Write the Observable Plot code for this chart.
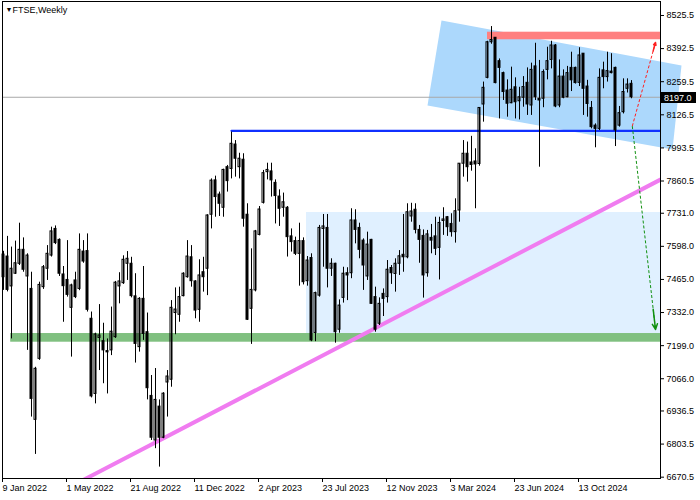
<!DOCTYPE html>
<html><head><meta charset="utf-8">
<script src="https://cdn.jsdelivr.net/npm/d3@7"></script>
<script src="https://cdn.jsdelivr.net/npm/@observablehq/plot@0.6"></script>
<style>
html,body{margin:0;padding:0;background:#fff;}
#chart{width:700px;height:500px;overflow:hidden;}
</style></head><body><div id="chart"></div>
<script>
// Weekly FTSE candles, one per week starting 9 Jan 2022 (week index 0)
const openPrices = [7474,7557,7437,7488,7528,7584,7477,7427,6901,7146,
 7434,7508,7561,7668,7624,7485,7463,7351,7461,7427,
 7577,7579,7307,7005,7230,7217,7177,7180,7233,7437,
 7450,7528,7528,7397,7193,7387,7253,6997,6818,6954,
 6829,7051,7062,7330,7323,7398,7474,7554,7457,7343,
 7494,7508,7725,7863,7806,7753,7916,7909,8007,7916,
 7946,7725,7347,7421,7644,7773,7896,7899,7853,7798,
 7753,7753,7638,7619,7568,7619,7458,7551,7250,7400,
 7668,7672,7508,7528,7263,7391,7490,7490,7702,7672,
 7621,7477,7624,7394,7287,7407,7394,7511,7487,7528,
 7564,7554,7718,7745,7664,7640,7490,7632,7638,7592,
 7700,7715,7688,7655,7742,7930,7970,7935,7939,7929,
 8168,8275,8418,8436,8342,8294,8224,8173,8237,8181,
 8195,8255,8164,8321,8191,8191,8307,8347,8405,8164,
 8280,8197,8315,8315,8255,8372,8240,8154,8083,8070,
 8305,8278,8300,8315,8083,8137,8231,8251];
const highPrices = [7578,7638,7595,7619,7691,7632,7568,7494,7112,7454,
 7521,7601,7675,7680,7628,7517,7621,7446,7494,7648,
 7621,7648,7334,7249,7364,7289,7226,7354,7457,7492,
 7560,7577,7554,7488,7392,7517,7330,7079,7107,6981,
 7010,7099,7380,7431,7434,7492,7621,7601,7460,7544,
 7554,7725,7869,7880,7816,7908,7923,8057,8023,7972,
 7970,7769,7588,7662,7758,7903,7932,7932,7865,7825,
 7812,7758,7668,7635,7691,7632,7557,7568,7414,7682,
 7726,7726,7548,7530,7383,7514,7512,7749,7745,7691,
 7628,7655,7626,7434,7391,7427,7541,7521,7548,7581,
 7726,7769,7771,7769,7682,7664,7662,7686,7715,7715,
 7753,7718,7729,7789,7930,8023,8017,8040,7990,8154,
 8258,8422,8481,8436,8351,8298,8267,8318,8275,8237,
 8280,8315,8334,8414,8345,8307,8398,8422,8409,8347,
 8307,8321,8378,8318,8396,8372,8265,8180,8090,8311,
 8338,8378,8372,8318,8160,8271,8271,8264];
const lowPrices = [7421,7415,7226,7485,7521,7494,7180,6912,6762,7140,
 7425,7461,7555,7605,7477,7293,7394,7153,7388,7420,
 7530,7334,6989,6965,7099,7046,7005,7159,7228,7367,
 7445,7461,7391,7129,7173,7220,6981,6818,6785,6711,
 6825,6912,7032,7243,7293,7395,7470,7434,7307,7293,
 7414,7400,7668,7715,7718,7715,7816,7869,7876,7869,
 7675,7300,7204,7415,7640,7768,7865,7796,7688,7678,
 7715,7555,7575,7561,7438,7443,7438,7215,7215,7394,
 7514,7431,7477,7209,7249,7370,7380,7468,7608,7548,
 7421,7461,7365,7253,7280,7316,7370,7445,7414,7481,
 7494,7548,7695,7648,7530,7390,7474,7568,7561,7463,
 7642,7638,7635,7611,7695,7876,7856,7900,7749,7920,
 8097,8271,8410,8251,8110,8184,8117,8171,8110,8106,
 8157,8124,8124,8184,7916,8155,8267,8311,8155,8155,
 8191,8195,8220,8250,8240,8124,8117,8070,7994,8063,
 8231,8258,8291,7999,8077,8130,8214,8191];
const closePrices = [7565,7423,7508,7530,7584,7504,7561,6985,7106,7443,
 7514,7568,7658,7611,7488,7438,7403,7441,7394,7584,
 7537,7343,6995,7244,7240,7180,7172,7255,7452,7457,
 7544,7548,7398,7206,7387,7246,7028,6829,6981,6829,
 7006,7075,7351,7344,7394,7488,7557,7458,7340,7481,
 7474,7722,7862,7796,7769,7905,7860,8010,7950,7950,
 7709,7303,7423,7658,7746,7892,7905,7863,7800,7749,
 7775,7635,7615,7568,7619,7454,7541,7220,7410,7672,
 7678,7508,7528,7253,7360,7488,7481,7702,7664,7584,
 7521,7605,7367,7263,7367,7387,7504,7490,7528,7558,
 7554,7735,7738,7664,7624,7481,7646,7621,7588,7692,
 7706,7675,7655,7739,7930,7970,7916,7925,7927,8154,
 8235,8418,8427,8254,8315,8218,8171,8227,8177,8197,
 8238,8168,8307,8197,8184,8298,8342,8405,8160,8280,
 8195,8294,8265,8254,8365,8231,8170,8077,8070,8275,
 8278,8302,8294,8064,8133,8218,8248,8197];

// Axis ticks
const weekTicks = [0,16,32,48,64,80,96,112,128,144];
const weekTickLabels = ["9 Jan 2022","1 May 2022","21 Aug 2022","11 Dec 2022","2 Apr 2023","23 Jul 2023","12 Nov 2023","3 Mar 2024","23 Jun 2024","13 Oct 2024"];
const priceTicks = [8525.5,8392.5,8259.5,8126.5,7993.5,7860.5,7731.0,7598.0,7465.0,7332.0,7199.0,7066.0,6936.5,6803.5,6670.5];
const currentPrice = 8197.0;
const chartTitle = "FTSE,Weekly";

// Drawn objects (week index, price)
const resistanceLine = [[57, 8062], [175, 8062]];
const supportZone = [{from: 1.8, to: 175, low: 7212.8, high: 7247.7}];
const targetZone = [{from: 121, to: 175, low: 8428, high: 8458.4}];
const rangeBox = [{from: 75.75, to: 175, low: 7240, high: 7734}];
const channelWeeks = [109.5, 169.5, 167.25, 106];
const channelPrices = [8505.4, 8324.6, 7987.1, 8163.9];
const trendWeeks = [20, 175];
const trendPrices = [6659.6, 7956];
const arrowStart = [157.2, 8081];
const upTarget = [163, 8417];
const downTarget = [163, 7264];

const candles = openPrices.map((o, i) => ({i, o, h: highPrices[i], l: lowPrices[i], c: closePrices[i]}));
const up = candles.filter(d => d.c >= d.o);
const down = candles.filter(d => d.c < d.o);
const channel = channelWeeks.map((w, k) => ({w, p: channelPrices[k]}));
const trend = trendWeeks.map((w, k) => ({w, p: trendPrices[k]}));
const tickLabelMap = new Map(weekTicks.map((w, k) => [w, weekTickLabels[k]]));
const arrows = [
  {x1: arrowStart[0], y1: arrowStart[1], x2: upTarget[0], y2: upTarget[1], color: "#ff2020"},
  {x1: arrowStart[0], y1: arrowStart[1], x2: downTarget[0], y2: downTarget[1], color: "#109010"}
];
const heads = arrows.map(a => ({...a, x1: a.x1 + (a.x2 - a.x1) * 0.9, y1: a.y1 + (a.y2 - a.y1) * 0.9}));

const plot = Plot.plot({
  width: 700, height: 500,
  marginLeft: 2, marginRight: 40, marginTop: 1, marginBottom: 22,
  x: {type: "linear", domain: [-0.25, 164.25]},
  y: {domain: [6665.2, 8581.75]},
  style: {fontFamily: "Liberation Sans, Arial, sans-serif", fontSize: "9px", background: "#fff", color: "#000"},
  marks: [
    Plot.rect(rangeBox, {x1: "from", x2: "to", y1: "low", y2: "high", fill: "#e0f0ff", clip: true}),
    Plot.line(channel, {x: "w", y: "p", fill: "#acd8fc", stroke: "none", curve: "linear-closed"}),
    Plot.rect(targetZone, {x1: "from", x2: "to", y1: "low", y2: "high", fill: "#ff8080", clip: true}),
    Plot.rect(supportZone, {x1: "from", x2: "to", y1: "low", y2: "high", fill: "#80c080", clip: true}),
    Plot.ruleY([currentPrice], {stroke: "#a8a8a8", strokeWidth: 1}),
    Plot.line(trend, {x: "w", y: "p", stroke: "#f07cf0", strokeWidth: 4, clip: true}),
    Plot.line(resistanceLine, {x: d => d[0], y: d => d[1], stroke: "#1030ff", strokeWidth: 2.2, clip: true}),
    Plot.ruleX(candles, {x: "i", y1: "l", y2: "h", stroke: "#000", strokeWidth: 1}),
    Plot.rect(down, {x1: d => d.i - 0.25, x2: d => d.i + 0.25, y1: "o", y2: "c", fill: "#000", stroke: "#000", strokeWidth: 1}),
    Plot.rect(up, {x1: d => d.i - 0.25, x2: d => d.i + 0.25, y1: "o", y2: "c", fill: "none", stroke: "#000", strokeWidth: 1}),
    Plot.link(arrows, {x1: "x1", y1: "y1", x2: "x2", y2: "y2", stroke: "color", strokeWidth: 1, strokeDasharray: "3,2"}),
    Plot.arrow(heads, {x1: "x1", y1: "y1", x2: "x2", y2: "y2", stroke: "color", strokeWidth: 1.5, headLength: 6, headAngle: 50}),
    Plot.axisY({anchor: "right", ticks: priceTicks, tickFormat: d3.format(".1f"), tickSize: 3, tickPadding: 3, label: null}),
    Plot.axisX({anchor: "bottom", ticks: weekTicks, tickFormat: d => tickLabelMap.get(d), tickSize: 4, tickPadding: 2, textAnchor: "start", dx: -1, label: null}),
    Plot.frame({stroke: "#000"}),
    Plot.text(["\u25BC"], {frameAnchor: "top-left", dx: 3, dy: 6, fontSize: 7, text: d => d}),
    Plot.text([chartTitle], {frameAnchor: "top-left", dx: 10, dy: 5, fontSize: 9, text: d => d})
  ]
});
document.getElementById("chart").append(plot);

// current price label on the right axis
const yPos = Math.round(plot.scale("y").apply(currentPrice));
const lab = d3.select(plot).append("g").attr("text-anchor", "start");
lab.append("rect").attr("x", 661).attr("y", yPos - 5).attr("width", 35).attr("height", 11).attr("fill", "#000");
lab.append("text").attr("x", 664).attr("y", yPos + 4).attr("fill", "#fff").attr("text-anchor", "start")
  .attr("font-size", 9).attr("font-family", "Liberation Sans, Arial, sans-serif").text(d3.format(".1f")(currentPrice));
</script></body></html>
